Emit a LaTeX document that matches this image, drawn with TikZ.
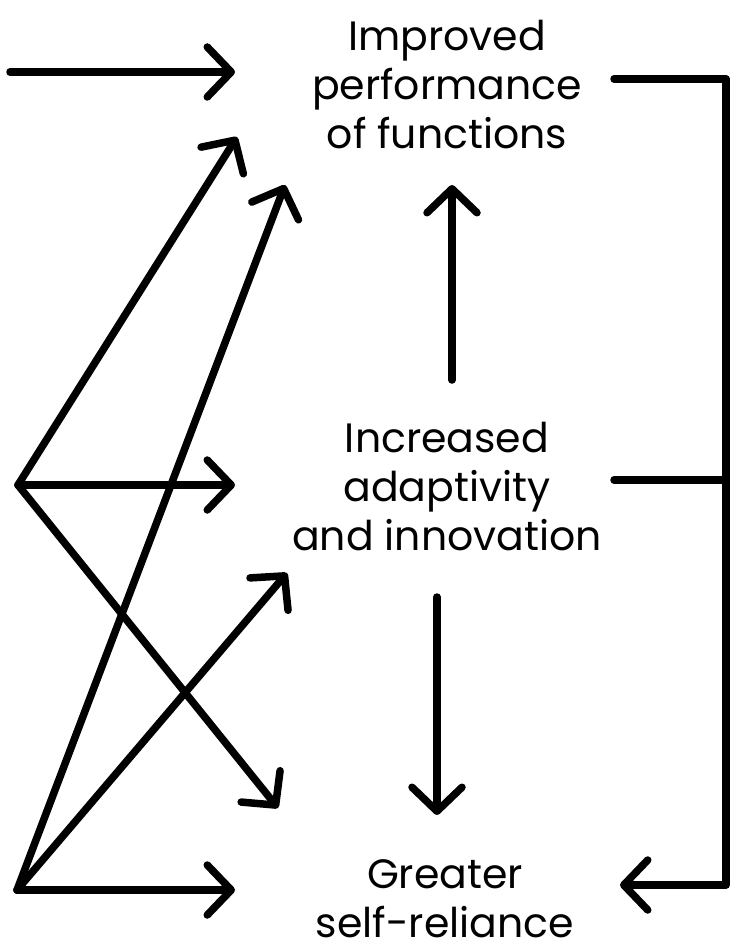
\documentclass[tikz,border=0pt]{standalone}
\usepackage{fontspec}
\setmainfont{Poppins}
\usepackage{tikz}
\usetikzlibrary{arrows.meta,calc}

\begin{document}
\begin{tikzpicture}[->,>={Straight Barb[length=24pt,width=50pt,round]},
    x=1pt, y=-1pt,
    line width=7.5pt, line cap=round, line join=round,
    every node/.style={align=center, font=\fontsize{41}{49}\selectfont}]

    \useasboundingbox (0,0) rectangle (731,952);

    \node[] (perf) at (447,85) {Improved\\performance\\of functions};
    \node[] (adapt) at (447,487) {Increased\\adaptivity\\and innovation};
    \node[] (reliance) at (445,899) {Greater\\self-reliance};

    \coordinate (in) at (10,72);
    \coordinate (srcA) at (18,485);
    \coordinate (srcB) at (17,890);

    %left side
    \draw (in) -- ($(perf.center)+(-212,-13)$);
    \draw (srcA) -- ($(perf.center)+(-210,52)$);
    \draw (srcB) -- ($(perf.center)+(-162,100)$);
    \draw (srcA) -- ($(adapt.center)+(-212,-2)$);
    \draw (srcB) -- ($(adapt.center)+(-160,86)$);
    \draw (srcA) -- ($(reliance.center)+(-167,-91)$);
    \draw (srcB) -- ($(reliance.center)+(-210,-9)$);

    %middle
    \draw ($(adapt.center)+(5,-107)$) -- ($(perf.center)+(5,100)$);
    \draw ($(adapt.center)+(-10,110)$) -- ($(reliance.center)+(-8,-84)$);

    %right rail
    \draw[-] ($(perf.center)+(167,-6)$) -- ++(112,0);
    \draw[-] ($(adapt.center)+(167,-7)$) -- ++(112,0);
    \draw ($(perf.center)+(279,-6)$) |- ($(reliance.center)+(175,-14)$);

\end{tikzpicture}
\end{document}
